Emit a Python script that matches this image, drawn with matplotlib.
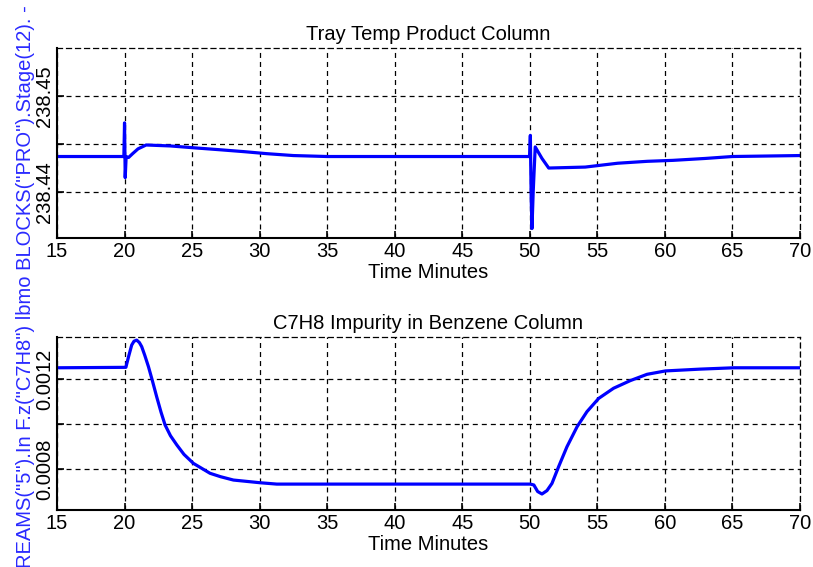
import matplotlib
matplotlib.use("Agg")
import matplotlib.pyplot as plt

plt.rcParams["font.family"] = ["Liberation Sans", "DejaVu Sans"]
plt.rcParams["lines.scale_dashes"] = False

# --- donnees ---
temps_haut = [15, 19.95, 20.0, 20.05, 20.12, 20.3, 20.6, 21.0, 21.6, 23.4, 25.2, 27.1,
              28.9, 30.5, 32.5, 35, 40, 45, 49.98, 50.04, 50.1, 50.16, 50.25, 50.4,
              50.9, 51.4, 54.1, 56.5, 58.7, 60.6, 63, 65, 70]
temp_plateau = [238.4437, 238.4437, 238.4472, 238.4415, 238.4437, 238.4436, 238.4440,
                238.4445, 238.4449, 238.4448, 238.4446, 238.4444, 238.4442, 238.4440,
                238.4438, 238.4437, 238.4437, 238.4437, 238.4437, 238.4459, 238.4395,
                238.4362, 238.4400, 238.4447, 238.4435, 238.4425, 238.4426, 238.4430,
                238.4432, 238.4433, 238.4435, 238.4437, 238.4438]

temps_bas = [15, 20.1, 20.3, 20.53, 20.7, 20.9, 21.1, 21.27, 21.5, 21.77, 22.05, 22.38,
             22.7, 23.0, 23.4, 23.87, 24.4, 25.1, 26.33, 27.1, 28.06, 30.04, 31.27, 40,
             50.04, 50.3, 50.58, 50.9, 51.27, 51.64, 52.13, 52.75, 53.5, 54.23, 55.1,
             56.2, 57.44, 58.68, 60.04, 62.6, 65.1, 70]
impurete_c7h8 = [0.001250, 0.001252, 0.001300, 0.001351, 0.001368, 0.001373, 0.001362,
                 0.001344, 0.001305, 0.001255, 0.001195, 0.001121, 0.001053, 0.000996,
                 0.000948, 0.000907, 0.000865, 0.000825, 0.000781, 0.000766, 0.000751,
                 0.000739, 0.000733, 0.000733, 0.000733, 0.000729, 0.000700, 0.000689,
                 0.000704, 0.000736, 0.000810, 0.000899, 0.000988, 0.001055, 0.001114,
                 0.001159, 0.001193, 0.001221, 0.001236, 0.001244, 0.001250, 0.001250]

ticks_x = [15, 20, 25, 30, 35, 40, 45, 50, 55, 60, 65, 70]
ticks_haut = [238.44, 238.445, 238.45]
labels_haut = ["238.44", "", "238.45"]
ticks_bas = [0.0008, 0.001, 0.0012]
labels_bas = ["0.0008", "", "0.0012"]

tiret = (0, (3.6, 2.9))


def styler_axe(ax, titre, ylim, yticks, ylabels):
    ax.set_xlim(15, 70)
    ax.set_ylim(*ylim)
    ax.set_xticks(ticks_x)
    ax.set_yticks(yticks)
    ax.set_yticklabels(ylabels, rotation=90, va="center")
    ax.tick_params(direction="in", length=5, width=1.2, labelsize=14.5, pad=3)
    ax.tick_params(axis="y", pad=2)
    ax.grid(True, color="black", linestyle=tiret, linewidth=0.9)
    for cote in ["top", "right"]:
        ax.spines[cote].set_linestyle(tiret)
        ax.spines[cote].set_linewidth(0.9)
    for cote in ["left", "bottom"]:
        ax.spines[cote].set_linewidth(1.5)
    ax.set_title(titre, fontsize=14.5, pad=6)
    ax.set_xlabel("Time Minutes", fontsize=14.5, labelpad=1)


fig = plt.figure(figsize=(8.13, 5.67), dpi=100)
ax1 = fig.add_axes([0.0701, 0.5802, 0.9139, 0.3351])
ax2 = fig.add_axes([0.0701, 0.1005, 0.9139, 0.3051])

ax1.plot(temps_haut, temp_plateau, color="#0000ff", linewidth=2.3)
styler_axe(ax1, "Tray Temp Product Column", (238.43521, 238.455), ticks_haut, labels_haut)

ax2.plot(temps_bas, impurete_c7h8, color="#0000ff", linewidth=2.3)
styler_axe(ax2, "C7H8 Impurity in Benzene Column", (0.0006178, 0.0013867), ticks_bas, labels_bas)

fig.text(0.031, 0.494, 'REAMS("5").In F.z("C7H8") lbmo BLOCKS("PRO").Stage(12). -',
         rotation=90, ha="center", va="center", fontsize=14.5, color="#2a2aff")

fig.savefig("out.png", dpi=100)
